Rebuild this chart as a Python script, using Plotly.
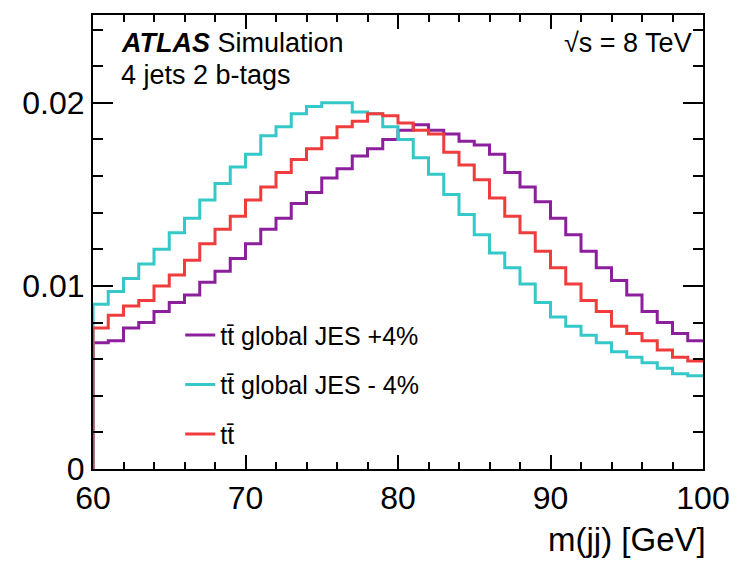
import numpy as np
import plotly.graph_objects as go

# Bin lower edges (1 GeV bins from 60 to 100)
bin_low = list(range(60, 100))
bin_width = 1.0

nominal = [0.0077, 0.0084, 0.0089, 0.0092, 0.0100, 0.0106, 0.0114, 0.0123, 0.0131, 0.0138,
           0.0147, 0.0154, 0.0162, 0.0169, 0.0175, 0.0181, 0.0187, 0.0190, 0.0194, 0.0193,
           0.0189, 0.0185, 0.0183, 0.0173, 0.0166, 0.0158, 0.0148, 0.0138, 0.0129, 0.0119,
           0.0110, 0.0101, 0.0092, 0.0086, 0.0078, 0.0074, 0.0070, 0.0065, 0.0061, 0.0059]
jes_minus = [0.0090, 0.0097, 0.0104, 0.0112, 0.0120, 0.0129, 0.0137, 0.0147, 0.0156, 0.0165,
             0.0172, 0.0182, 0.0187, 0.0194, 0.0198, 0.0200, 0.0200, 0.0195, 0.0194, 0.0187,
             0.0180, 0.0170, 0.0161, 0.0150, 0.0139, 0.0128, 0.0118, 0.0110, 0.0101, 0.0091,
             0.0083, 0.0078, 0.0073, 0.0069, 0.0064, 0.0061, 0.0058, 0.0055, 0.0052, 0.0051]
jes_plus = [0.0069, 0.0070, 0.0077, 0.0080, 0.0086, 0.0091, 0.0095, 0.0102, 0.0108, 0.0115,
            0.0123, 0.0131, 0.0137, 0.0145, 0.0151, 0.0159, 0.0164, 0.0171, 0.0175, 0.0180,
            0.0185, 0.0188, 0.0185, 0.0183, 0.0179, 0.0177, 0.0172, 0.0162, 0.0154, 0.0146,
            0.0137, 0.0128, 0.0119, 0.0110, 0.0103, 0.0095, 0.0086, 0.0080, 0.0074, 0.0070]

series_names = ["tt\u0304 global JES +4%", "tt\u0304 global JES - 4%", "tt\u0304"]
series_values = [jes_plus, jes_minus, nominal]
series_colors = ["#8c1f9c", "#35c8c8", "#f03c3c"]

x_ticks = [60, 70, 80, 90, 100]
y_ticks = [0, 0.01, 0.02]
y_ticktext = ["0", "0.01", "0.02"]

FONT = "Liberation Sans, Arial, sans-serif"

fig = go.Figure()
for i, (name, vals, col) in enumerate(zip(series_names, series_values, series_colors)):
    xs = [bin_low[0]] + list(bin_low) + [bin_low[-1] + bin_width]
    ys = [0] + list(vals) + [vals[-1]]
    fig.add_trace(go.Scatter(
        x=xs, y=ys, mode="lines", line=dict(color=col, width=3, shape="hv"),
        name=name, legendgroup=f"g{i}",
    ))

axis_common = dict(
    showline=True, linecolor="black", linewidth=2, mirror="ticks",
    ticks="inside", tickcolor="black", tickwidth=2, showgrid=False, zeroline=False,
    tickfont=dict(family=FONT, size=32, color="black"),
)
fig.update_xaxes(range=[60, 100], tickvals=x_ticks, ticklen=14,
                 minor=dict(dtick=2, tick0=60, ticklen=7, ticks="inside", tickcolor="black", tickwidth=2),
                 **axis_common)
fig.update_yaxes(range=[0, 0.0248], tickvals=y_ticks, ticktext=y_ticktext, ticklen=20,
                 minor=dict(dtick=0.002, tick0=0, ticklen=10, ticks="inside", tickcolor="black", tickwidth=2),
                 **axis_common)

fig.update_layout(
    width=742, height=563,
    margin=dict(l=93, r=34, t=15, b=94),
    paper_bgcolor="white", plot_bgcolor="white",
    font=dict(family=FONT, color="black"),
    showlegend=True,
    legend=dict(x=0.143, y=0.345, xanchor="left", yanchor="top",
                traceorder="grouped", tracegroupgap=14,
                font=dict(family=FONT, size=25, color="black"),
                bgcolor="rgba(0,0,0,0)", itemwidth=30),
    annotations=[
        dict(x=0.043, y=0.975, xref="paper", yref="paper", xanchor="left", yanchor="top",
             text="<b><i>ATLAS</i></b> Simulation", showarrow=False,
             font=dict(family=FONT, size=27, color="black")),
        dict(x=0.043, y=0.905, xref="paper", yref="paper", xanchor="left", yanchor="top",
             text="4 jets 2 b-tags", showarrow=False,
             font=dict(family=FONT, size=27, color="black")),
        dict(x=0.985, y=0.975, xref="paper", yref="paper", xanchor="right", yanchor="top",
             text="\u221as = 8 TeV", showarrow=False,
             font=dict(family=FONT, size=27, color="black")),
        dict(x=1.0, y=-0.188, xref="paper", yref="paper", xanchor="right", yanchor="bottom",
             text="m(jj) [GeV]", showarrow=False, xshift=5, yshift=-6,
             font=dict(family=FONT, size=33, color="black")),
    ],
)

fig.write_html("out.html")
